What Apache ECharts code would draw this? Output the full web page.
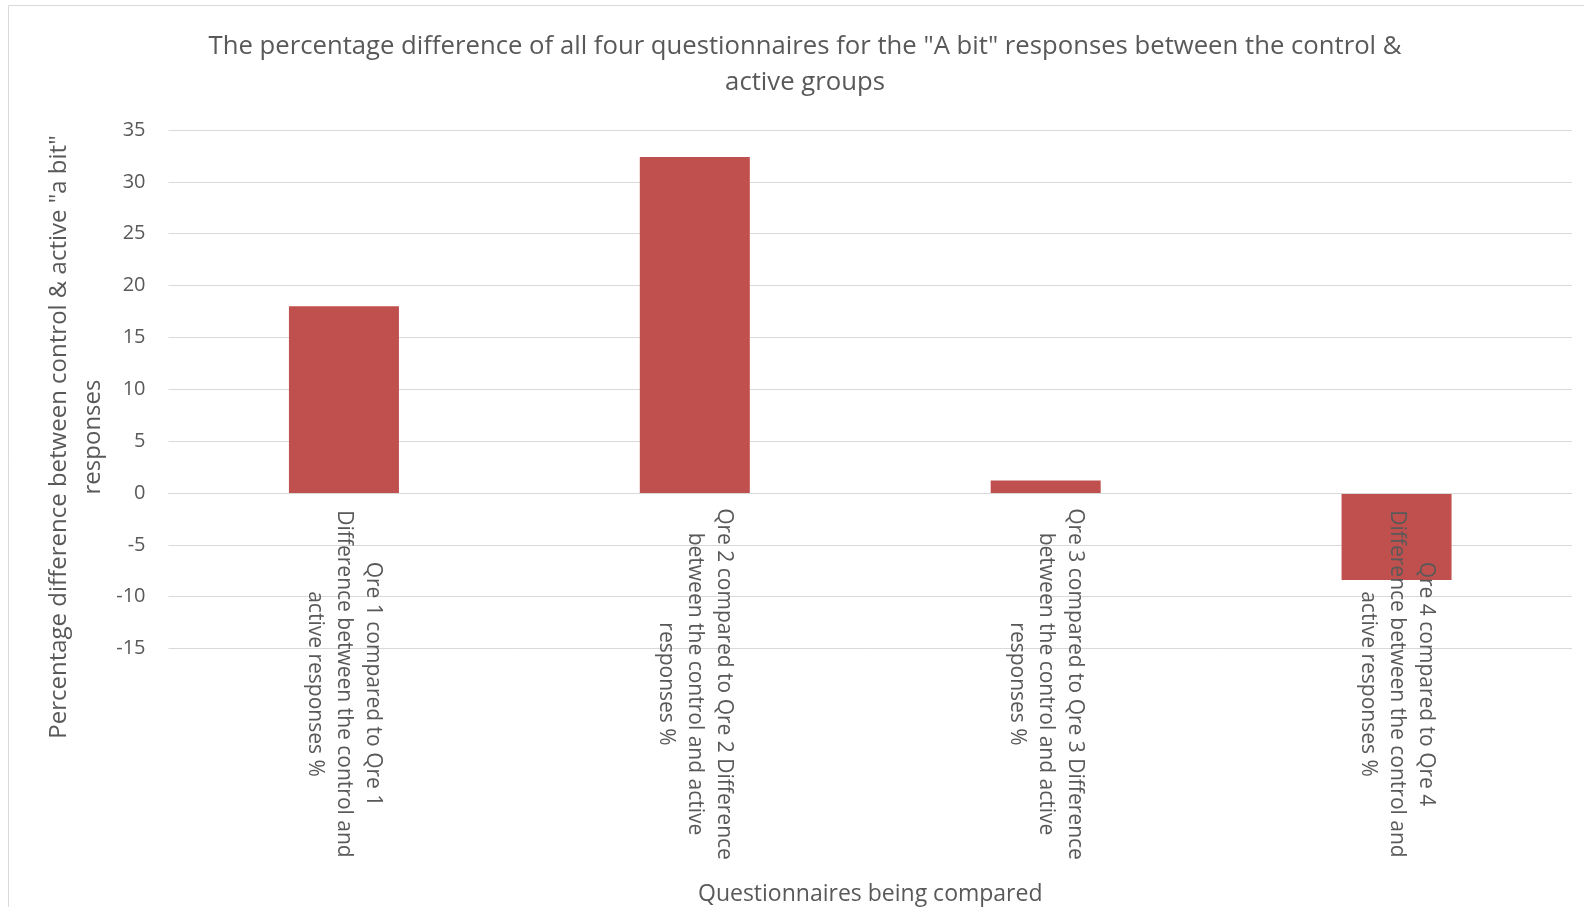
<!DOCTYPE html>
<html>
<head>
<meta charset="utf-8">
<title>"A bit" responses: control vs active</title>
<script src="https://cdn.jsdelivr.net/npm/echarts@6/dist/echarts.min.js"></script>
<style>
  html, body { margin: 0; padding: 0; background: #ffffff; }
  #chart { width: 1584px; height: 907px; }
</style>
</head>
<body>
<div id="chart"></div>
<script>
// Category labels (line breaks as they wrap under each bar)
const categories = [
  'Qre 1 compared to Qre 1\nDifference between the control and\nactive responses %',
  'Qre 2 compared to Qre 2 Difference\nbetween the control and active\nresponses %',
  'Qre 3 compared to Qre 3 Difference\nbetween the control and active\nresponses %',
  'Qre 4 compared to Qre 4\nDifference between the control and\nactive responses %'
];

// Percentage difference of "A bit" responses
const differences = [18.0, 32.4, 1.2, -8.4];

// Value axis range and step
const yMin = -15;
const yMax = 35;
const yStep = 5;

const titleText = 'The percentage difference of all four questionnaires for the "A bit" responses between the control &\nactive groups';
const yAxisTitle = 'Percentage difference between control & active "a bit"\nresponses';
const xAxisTitle = 'Questionnaires being compared';

const FONT = '"Open Sans", "Noto Sans", sans-serif';
const TEXT = '#595959';
const GRID = '#d9d9d9';

const chart = echarts.init(document.getElementById('chart'), null, { renderer: 'canvas' });

chart.setOption({
  animation: false,
  backgroundColor: '#ffffff',
  textStyle: { fontFamily: FONT, color: TEXT },
  title: {
    text: titleText,
    left: 800,
    top: 24,
    textAlign: 'center',
    textStyle: {
      fontFamily: FONT,
      fontSize: 25.7,
      fontWeight: 'normal',
      color: TEXT,
      lineHeight: 36
    }
  },
  grid: {
    left: 168.5,
    right: 12,
    top: 130,
    bottom: 258.5,
    containLabel: false,
    outerBoundsMode: 'none'
  },
  xAxis: {
    type: 'category',
    data: categories,
    z: 5,
    name: xAxisTitle,
    nameLocation: 'middle',
    nameGap: 234,
    nameTextStyle: { fontFamily: FONT, fontSize: 23, color: TEXT },
    axisLine: { show: true, onZero: true, lineStyle: { color: GRID, width: 1 } },
    axisTick: { show: false },
    splitLine: { show: false },
    axisLabel: {
      interval: 0,
      rotate: -90,
      align: 'center',
      margin: 35.5,
      fontFamily: FONT,
      fontSize: 21,
      lineHeight: 29,
      color: TEXT
    }
  },
  yAxis: {
    type: 'value',
    min: yMin,
    max: yMax,
    interval: yStep,
    axisLine: { show: false },
    axisTick: { show: false },
    splitLine: { show: true, lineStyle: { color: GRID, width: 1 } },
    axisLabel: {
      margin: 23,
      fontFamily: FONT,
      fontSize: 20,
      color: TEXT
    }
  },
  graphic: [
    {
      type: 'rect',
      shape: { x: 8.5, y: 5.5, width: 1600, height: 920 },
      style: { fill: 'none', stroke: GRID, lineWidth: 1 },
      silent: true,
      z: -1
    },
    {
      type: 'text',
      x: 76,
      y: 437,
      rotation: Math.PI / 2,
      style: {
        text: yAxisTitle,
        fontFamily: FONT,
        fontSize: 24,
        lineHeight: 34,
        fill: TEXT,
        align: 'center',
        verticalAlign: 'middle'
      },
      silent: true
    }
  ],
  series: [
    {
      type: 'bar',
      data: differences,
      barWidth: 110,
      z: 2,
      itemStyle: { color: '#c0504d' }
    }
  ]
});
</script>
</body>
</html>
